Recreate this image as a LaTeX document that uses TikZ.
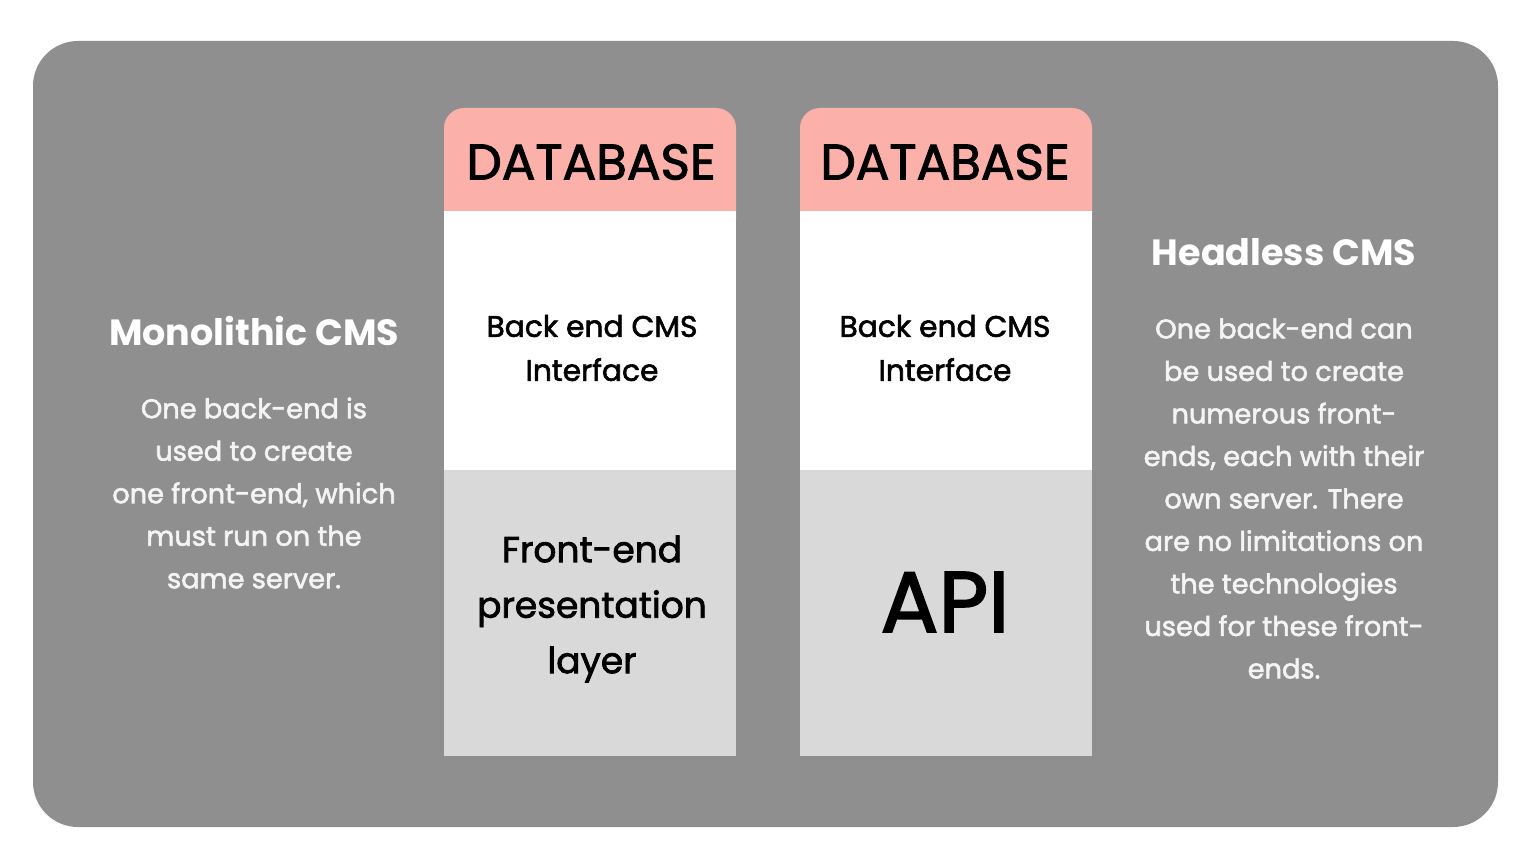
\documentclass[tikz,border=0pt]{standalone}
\usepackage{fontspec}
\setmainfont{Poppins}
\newfontfamily\medfont[FakeBold=2]{Poppins}
\definecolor{bg}{HTML}{8F8F8F}
\definecolor{pinkc}{HTML}{FBB0A9}
\definecolor{lgray}{HTML}{D9D9D9}
\definecolor{bodyc}{HTML}{F4F4F4}
\begin{document}
\begin{tikzpicture}[x=1pt,y=-1pt,
  heading/.style={text=white,font=\fontsize{36.5}{40}\selectfont\bfseries},
  bodytext/.style={text=bodyc,align=center,font=\medfont\fontsize{27.2}{42.5}\selectfont},
  dbtext/.style={text=black,font=\medfont\fontsize{50}{55}\selectfont},
  boxtext/.style={text=black,align=center,font=\medfont\fontsize{29.7}{44}\selectfont},
  fetext/.style={text=black,align=center,font=\medfont\fontsize{36}{55.5}\selectfont},
]
\useasboundingbox (0,0) rectangle (1536,864);
\fill[white] (0,0) rectangle (1536,864);
\fill[bg,rounded corners=45pt] (33,41) rectangle (1498,827);
% left column
\fill[pinkc,rounded corners=20pt] (444,108) rectangle (736,240);
\fill[white] (444,211) rectangle (736,470);
\fill[lgray] (444,470) rectangle (736,756);
% right column
\fill[pinkc,rounded corners=20pt] (800,108) rectangle (1092,240);
\fill[white] (800,211) rectangle (1092,470);
\fill[lgray] (800,470) rectangle (1092,756);
% texts
\node[dbtext] (db1) at (591,162) {DATABASE};
\node[dbtext] (db2) at (945,162) {DATABASE};
\node[boxtext] (be1) at (592,348) {Back end CMS\\Interface};
\node[boxtext] (be2) at (945,348) {Back end CMS\\Interface};
\node[fetext] (fe) at (592,609) {Front-end\\presentation\\layer};
\node[text=black,font=\medfont\fontsize{86}{90}\selectfont] (api) at (945,602) {API};
\node[heading] (mono) at (254,331) {Monolithic CMS};
\node[bodytext] (monob) at (254,493) {One back-end is\\used to create\\one front-end, which\\must run on the\\same server.};
\node[heading] (head) at (1284,252) {Headless CMS};
\node[bodytext] (headb) at (1284,498.5) {One back-end can\\be used to create\\numerous front-\\ends, each with their\\own server. There\\are no limitations on\\the technologies\\used for these front-\\ends.};
\end{tikzpicture}
\end{document}
